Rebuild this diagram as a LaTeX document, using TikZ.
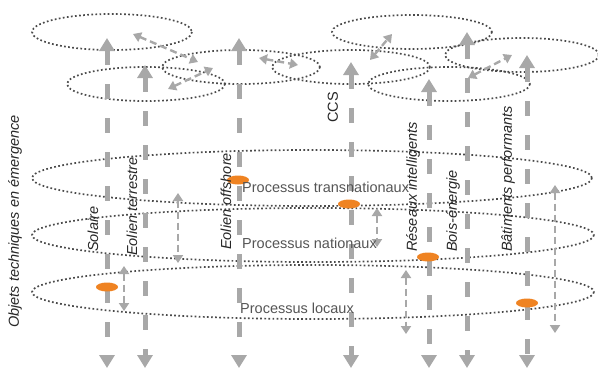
\documentclass[tikz,border=0pt]{standalone}
\usepackage{fontspec}
\setmainfont{Liberation Sans}
\usetikzlibrary{arrows.meta,shapes.geometric}
\definecolor{bargray}{HTML}{A8A8A8}
\definecolor{dotgray}{HTML}{4A4A4A}
\definecolor{textgray}{HTML}{555555}
\definecolor{procorange}{HTML}{EF8322}
\tikzstyle{layer}=[draw=dotgray,line width=1.7pt,dash pattern=on 1.7pt off 2.4pt]
\tikzstyle{bigarrow}=[draw=bargray,line width=5pt,dash pattern=on 15pt off 19pt,{Triangle[length=13pt,width=15pt]}-{Triangle[length=13pt,width=15pt]}]
\tikzstyle{linkarrow}=[draw=bargray,line width=2.4pt,dash pattern=on 7pt off 4pt,{Triangle[length=8pt,width=10pt]}-{Triangle[length=8pt,width=10pt]}]
\tikzstyle{procdot}=[ellipse,fill=procorange,minimum width=22pt,minimum height=9pt,inner sep=0pt]
\tikzstyle{techlabel}=[rotate=90,anchor=west,inner sep=0pt,text=black!85,font=\fontsize{14.5}{17}\selectfont\itshape]
\tikzstyle{proclabel}=[anchor=west,inner sep=0pt,text=textgray,font=\fontsize{14.5}{17}\selectfont]

\begin{document}
\begin{tikzpicture}[x=1pt,y=-1pt]
\useasboundingbox (0,0) rectangle (598,372);

% small layers on top
\foreach \pos/\rx/\ry in {{(112,32)/80/18}, {(146,84)/79/17}, {(241,67)/79/17}, {(351,67)/79/17},
                          {(412,32)/80/17}, {(449,84)/81/17}, {(522,55)/77/17}}
    \draw[layer] \pos ellipse [x radius=\rx, y radius=\ry];

% large layers
\foreach \pos/\rx/\ry in {{(312,178)/280/28}, {(313,235)/281/27}, {(313,292)/281/27}}
    \draw[layer] \pos ellipse [x radius=\rx, y radius=\ry];

% technologies (columns)
\foreach \name/\x/\top in {sol/107/38, eot/145/65, eof/239/38, ccs/351/62, res/429/79, boi/467/32, bat/527/55}{
    \coordinate (\name-t) at (\x,\top);
    \coordinate (\name-b) at (\x,368);
    \draw[bigarrow] (\name-t) -- (\name-b);
}

% interactions
\foreach \name/\xa/\ya/\xb/\yb in {l1/133/34/198/62, l2/168/89/213/68, l3/259/58/298/65,
                                   l4/370/60/392/34, l5/468/78/512/55, l6/178/193/178/263,
                                   l7/124/266/124/311, l8/377/208/377/247, l9/406/270/406/334,
                                   l10/555/185/555/333}{
    \coordinate (\name-s) at (\xa,\ya);
    \coordinate (\name-e) at (\xb,\yb);
    \draw[linkarrow] (\name-s) -- (\name-e);
}

% process markers
\foreach \pos/\name in {{(238,180)/p1}, {(349,204)/p2}, {(428,257)/p3}, {(107,287)/p4}, {(527,303)/p5}}
    \node[procdot] (\name) at \pos {};

% labels
\node[techlabel] (obj) at (15,328) {Objets techniques en émergence};
\foreach \pos/\name/\lbl in {{(93,252)/sol-l/Solaire}, {(132,256)/eot-l/Eolien terrestre},
                             {(226,250)/eof-l/Eolien offshore}, {(413,252)/res-l/Réseaux intelligents},
                             {(453,252)/boi-l/Bois-énergie}, {(508,252)/bat-l/Bâtiments performants}}
    \node[techlabel] (\name) at \pos {\lbl};
\node[techlabel,font=\fontsize{14.5}{17}\selectfont] (ccs-l) at (333,123) {CCS};

\node[proclabel] (trans) at (242,187) {Processus transnationaux};
\node[proclabel] (nat) at (242,243) {Processus nationaux};
\node[proclabel] (loc) at (240,308) {Processus locaux};

\end{tikzpicture}
\end{document}
